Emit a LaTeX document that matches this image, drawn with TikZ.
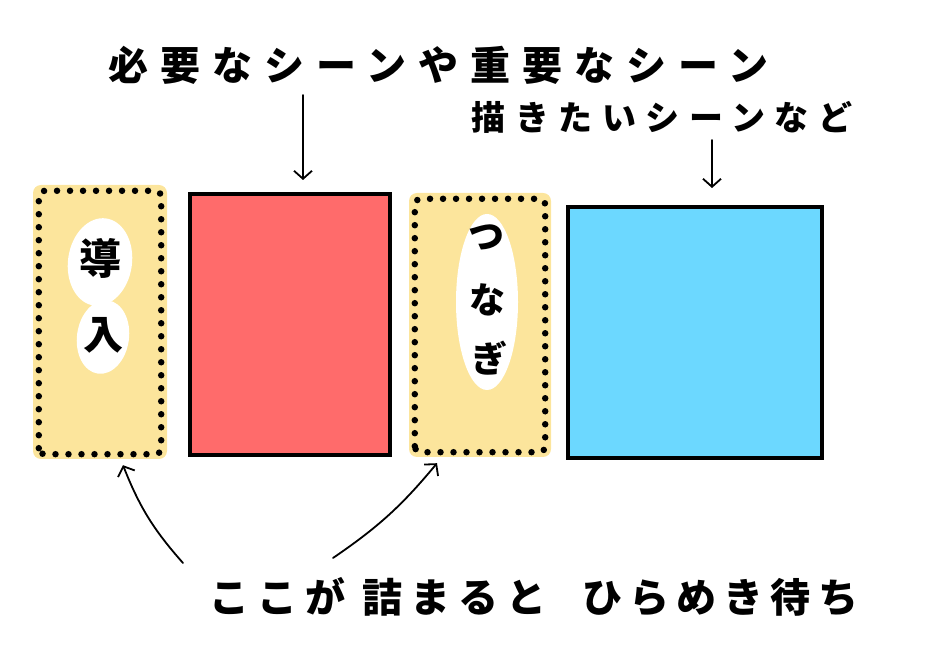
\documentclass[tikz,border=0pt]{standalone}
\usepackage{fontspec}
\newfontfamily\cjk{Noto Sans CJK JP}
\usetikzlibrary{arrows.meta,shapes.geometric}
\definecolor{introY}{RGB}{252,229,156}
\definecolor{sceneR}{RGB}{255,107,107}
\definecolor{sceneB}{RGB}{108,216,255}
\tikzset{
  yellowbox/.style={fill=introY, rounded corners=8pt, inner sep=0pt},
  dotline/.style={line width=6.5pt, line cap=round, dash pattern=on 0pt off 13pt},
  scenebox/.style={draw=black, line width=4pt, inner sep=0pt},
  blob/.style={ellipse, fill=white, inner sep=0pt},
  hand/.style={line width=1.8pt, line cap=round, -{Straight Barb[length=8pt,width=18pt,line width=1.8pt]}},
  lbl/.style={inner sep=0pt, text=black},
}
\begin{document}
\begin{tikzpicture}[x=1pt,y=1pt]
\useasboundingbox (0,0) rectangle (926,667);
% yellow boxes
\node[yellowbox, minimum width=134pt, minimum height=274pt] (intro) at (100,345) {};
\draw[dotline, rounded corners=6pt] ([shift={(6,5)}]intro.south west) rectangle ([shift={(-6,-6)}]intro.north east);
\node[yellowbox, minimum width=142pt, minimum height=264pt] (link) at (480,342) {};
\draw[dotline, rounded corners=6pt] ([shift={(6,5)}]link.south west) rectangle ([shift={(-6,-6)}]link.north east);
% scene boxes
\node[scenebox, fill=sceneR, minimum width=200pt, minimum height=261pt] (must) at (290,342.5) {};
\node[scenebox, fill=sceneB, minimum width=254pt, minimum height=251pt] (want) at (695,334.5) {};
% blobs and labels in yellow boxes
\node[blob, minimum width=64pt, minimum height=88pt, rotate=-8] (blobA) at (100,405) {};
\node[blob, minimum width=52pt, minimum height=74pt, rotate=-8] (blobB) at (103,330) {};
\node[lbl, font=\cjk\bfseries\fontsize{42}{42}\selectfont] (doA) at (100,409) {導};
\node[lbl, font=\cjk\bfseries\fontsize{40}{40}\selectfont] (doB) at (103,332) {入};
\node[blob, minimum width=62pt, minimum height=176pt] (blobC) at (487,365) {};
\node[lbl, font=\cjk\bfseries\fontsize{36}{36}\selectfont] (tsu) at (486,430) {つ};
\node[lbl, font=\cjk\bfseries\fontsize{36}{36}\selectfont] (na) at (487,367) {な};
\node[lbl, font=\cjk\bfseries\fontsize{36}{36}\selectfont] (gi) at (489,309) {ぎ};
% top texts
\node[lbl, font=\cjk\bfseries\fontsize{40}{40}\selectfont\addfontfeature{LetterSpace=30}] (top1) at (438,602) {必要なシーンや重要なシーン};
\node[lbl, font=\cjk\bfseries\fontsize{34}{34}\selectfont\addfontfeature{LetterSpace=28}] (top2) at (662,550) {描きたいシーンなど};
% bottom texts
\node[lbl, font=\cjk\bfseries\fontsize{40}{40}\selectfont\addfontfeature{LetterSpace=20}] (bot1) at (378,70) {ここが 詰まると};
\node[lbl, font=\cjk\bfseries\fontsize{40}{40}\selectfont\addfontfeature{LetterSpace=18}] (bot2) at (720,70) {ひらめき待ち};
% arrows
\coordinate (a1) at (303,572);
\coordinate (a2) at (712,527);
\coordinate (b1) at (183,104);
\coordinate (b2) at (333,109);
\draw[hand, shorten >=12pt] (a1) -- (a1 |- must.north);
\draw[hand, shorten >=17pt] (a2) -- (a2 |- want.north);
\draw[hand] (b1) to[bend left=10] ([shift={(23,-6)}]intro.south);
\draw[hand] (b2) to[bend right=8] ([shift={(-43,-6)}]link.south);
\end{tikzpicture}
\end{document}
